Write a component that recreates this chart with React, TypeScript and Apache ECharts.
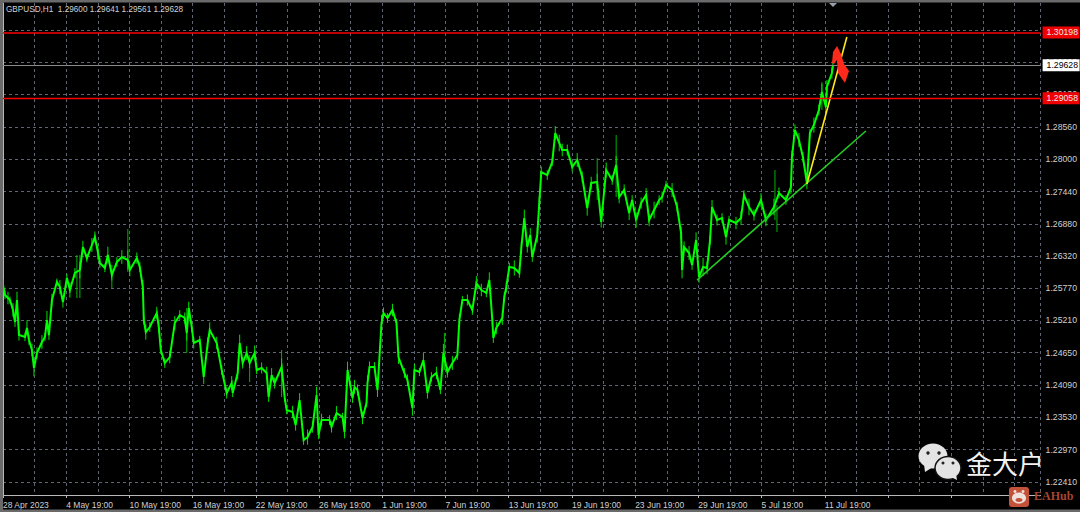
import React, { useEffect, useRef } from "react";
import * as echarts from "echarts";

const barIndex = [
  0, 2, 5, 7, 10, 12, 14, 16, 22, 24, 26, 29, 31, 34, 39, 42, 44, 46, 49, 54, 57, 60, 64, 67, 72, 77, 80, 84, 89, 92, 95, 97, 102, 105, 109, 114, 119, 125, 127, 134, 137, 140, 141, 143, 147, 154, 156, 158, 162, 167, 172, 177, 182, 184, 186, 189, 191, 197, 201, 205, 207, 214, 219, 224, 229, 230, 235, 237, 240, 244, 247, 252, 254, 259, 264, 266, 269, 272, 279, 282, 284, 290, 293, 297, 301, 305, 310, 314, 316, 319, 327, 329, 334, 340, 342, 345, 350, 352, 355, 360, 364, 365, 367, 372, 375, 379, 381, 385, 390, 394, 396, 402, 405, 410, 412, 417, 421, 425, 429, 434, 438, 441, 445, 450, 455, 457, 460, 465, 470, 474, 479, 484, 487, 490, 491, 494, 500, 502, 504, 507, 512, 517, 519, 522, 525, 528, 530, 535, 537, 539, 545, 550, 553, 557, 560, 565, 570, 575, 580, 585, 589, 595, 599, 604, 610, 614, 617, 622, 627, 630, 634, 639, 644, 647, 652, 657, 660, 664, 670, 675, 679, 680, 682, 687, 690, 694, 697, 701, 705, 708, 710, 715, 720, 724, 727, 734, 739, 742, 747, 752, 759, 764, 772, 777, 784, 789, 790, 793, 797, 801, 805, 808, 812, 817, 820, 824, 825, 830, 831,
];
const closePrices = [
  1.25823, 1.2565, 1.25597, 1.25563, 1.2539, 1.25182, 1.25563, 1.24956, 1.24922, 1.25078, 1.2487, 1.24697, 1.24385, 1.24645, 1.24835, 1.24922, 1.25216, 1.24956, 1.25563, 1.25875, 1.25788, 1.25528, 1.25944, 1.25736, 1.26031, 1.26083, 1.26481, 1.2629, 1.26516, 1.26654, 1.26394, 1.26204, 1.26117, 1.26342, 1.25996, 1.26221, 1.26308, 1.26256, 1.26083, 1.2629, 1.26135, 1.25788, 1.25216, 1.25008, 1.25095, 1.25338, 1.25095, 1.24697, 1.24471, 1.24575, 1.25164, 1.25303, 1.25251, 1.24991, 1.25424, 1.25095, 1.24818, 1.2487, 1.24229, 1.24818, 1.25043, 1.24818, 1.2435, 1.23952, 1.24125, 1.23952, 1.24298, 1.24818, 1.24471, 1.24645, 1.24471, 1.24645, 1.2435, 1.24385, 1.24298, 1.23882, 1.24263, 1.24125, 1.24402, 1.23882, 1.23657, 1.23622, 1.23397, 1.2383, 1.23137, 1.23189, 1.23363, 1.23917, 1.23224, 1.23484, 1.23484, 1.23363, 1.23605, 1.23536, 1.23276, 1.2435, 1.23865, 1.24056, 1.24004, 1.23519, 1.23778, 1.24125, 1.24402, 1.24402, 1.24004, 1.25164, 1.25338, 1.25251, 1.2539, 1.25164, 1.24575, 1.24298, 1.24177, 1.23692, 1.2435, 1.24315, 1.24523, 1.23952, 1.24229, 1.24298, 1.24004, 1.24645, 1.24315, 1.24471, 1.2461, 1.25216, 1.25563, 1.25563, 1.2539, 1.25857, 1.25736, 1.25684, 1.25909, 1.25216, 1.24904, 1.25078, 1.25251, 1.25615, 1.25788, 1.26135, 1.26117, 1.26031, 1.26464, 1.26983, 1.26481, 1.26689, 1.26308, 1.26689, 1.27243, 1.2778, 1.27728, 1.27954, 1.28456, 1.28283, 1.28161, 1.28161, 1.27867, 1.27988, 1.27694, 1.27157, 1.2759, 1.27607, 1.26914, 1.27815, 1.27642, 1.27902, 1.27347, 1.27468, 1.2707, 1.27295, 1.26949, 1.27243, 1.27382, 1.26949, 1.27122, 1.27295, 1.27347, 1.27555, 1.27468, 1.27174, 1.26723, 1.26083, 1.26481, 1.26377, 1.26169, 1.26602, 1.25961, 1.26135, 1.26117, 1.26602, 1.27174, 1.26949, 1.26983, 1.26654, 1.26949, 1.26897, 1.26983, 1.27382, 1.27174, 1.27035, 1.27295, 1.26949, 1.27174, 1.27416, 1.27295, 1.2752, 1.2804, 1.28508, 1.28335, 1.2804, 1.2759, 1.28456, 1.28594, 1.28854, 1.29166, 1.28906, 1.29253, 1.29495, 1.29628,
];
// Approximate half-height of the price band round each sample, in units of 0.00012 (read by eye).
const bandHeights = [
  8, 6, 9, 5, 10, 7, 12, 8, 6, 11, 7, 9, 12, 8, 10, 6, 13, 7, 9, 5, 10, 8, 6, 11, 7, 12, 9, 6, 10, 8, 11, 7, 6, 12, 8, 7, 10, 14, 9, 8, 7, 10, 6, 11, 7, 9, 8, 6, 7, 9, 10, 7, 8, 11, 9, 7, 8, 6, 10, 8, 11, 9, 7, 8, 10, 6, 9, 12, 8, 10, 7, 11, 6, 8, 9, 7, 10, 8, 12, 7, 6, 9, 8, 10, 7, 11, 8, 12, 6, 9, 7, 8, 10, 6, 9, 12, 7, 10, 8, 9, 6, 11, 8, 7, 10, 12, 8, 7, 9, 6, 10, 7, 8, 11, 9, 6, 10, 8, 7, 9, 6, 13, 8, 10, 7, 9, 6, 8, 7, 10, 9, 6, 11, 8, 7, 9, 10, 7, 8, 6, 11, 7, 9, 12, 8, 10, 7, 11, 9, 8, 7, 6, 10, 12, 9, 8, 7, 10, 8, 11, 9, 12, 8, 11, 7, 13, 9, 8, 10, 7, 11, 8, 10, 9, 12, 7, 8, 6, 10, 7, 9, 12, 8, 10, 7, 11, 8, 13, 9, 7, 10, 8, 7, 11, 6, 9, 10, 7, 12, 8, 10, 9, 12, 8, 7, 10, 9, 8, 10, 7, 9, 6, 11, 8, 12, 9, 10, 8, 6,
];
const spikeBars = [74, 77, 109, 125, 184, 247, 279, 442, 595, 614, 773, 775, 820];
const spikeHighs = [1.26342, 1.26342, 1.26169, 1.26793, 1.25424, 1.2461, 1.24697, 1.24991, 1.28023, 1.28421, 1.27815, 1.27209, 1.29339];
const spikeLows = [1.25597, 1.25597, 1.25771, 1.26048, 1.24645, 1.24142, 1.23882, 1.2435, 1.27295, 1.27347, 1.26949, 1.26741, 1.28854];

const priceTicks = [1.2241, 1.2297, 1.2353, 1.2409, 1.2465, 1.2521, 1.2577, 1.2632, 1.2688, 1.2744, 1.28, 1.2856, 1.2913, 1.2969, 1.3024];
const timeLabels = ["28 Apr 2023", "4 May 19:00", "10 May 19:00", "16 May 19:00", "22 May 19:00", "26 May 19:00", "1 Jun 19:00", "7 Jun 19:00", "13 Jun 19:00", "19 Jun 19:00", "23 Jun 19:00", "29 Jun 19:00", "5 Jul 19:00", "11 Jul 19:00"];

const upperLevel = 1.30198;
const lowerLevel = 1.29058;
const lastPrice = 1.29628;
const supportBars = [695, 864];
const supportPrices = [1.25909, 1.28491];
const breakoutBars = [805, 845];
const breakoutPrices = [1.27573, 1.30119];
const headerText = "GBPUSD,H1  1.29600 1.29641 1.29561 1.29628";
const labelFont = '"Liberation Sans", Arial, sans-serif';
const gridDash = { color: "#5f6572", width: 1, type: [3, 3] as number[] };

const levelLine = (value: number, color: string, width: number, textColor: string, tag: string) => ({
  yAxis: value,
  lineStyle: { color, width, type: "solid" as const },
  label: {
    show: true,
    position: "end" as const,
    distance: 2,
    formatter: value.toFixed(5),
    backgroundColor: tag,
    color: textColor,
    fontFamily: labelFont,
    fontSize: 8.7,
    padding: [2, 2, 1, 4],
    width: 31,
  },
});

const wickSeries = (bars: number[], lows: number[], highs: number[], stroke: string, z: number) => ({
  type: "custom",
  silent: true,
  z,
  data: bars.map((b, i) => [b, lows[i], highs[i]]),
  renderItem: (_p: unknown, api: any) => {
    const a = api.coord([api.value(0), api.value(1)]);
    const b = api.coord([api.value(0), api.value(2)]);
    return {
      type: "line",
      shape: { x1: a[0], y1: a[1], x2: b[0], y2: b[1] },
      style: { stroke, lineWidth: 1 },
    };
  },
});

export default function App() {
  const ref = useRef<HTMLDivElement>(null);
  useEffect(() => {
    document.body.style.margin = "0";
    document.body.style.background = "#000";
    const chart = echarts.init(ref.current!, undefined, { renderer: "svg" });
    const bandLows = closePrices.map((p, i) => p - (bandHeights[i] ?? 8) * 0.00012);
    const bandHighs = closePrices.map((p, i) => p + (bandHeights[i] ?? 8) * 0.00012);
    chart.setOption({
      animation: false,
      backgroundColor: "#000",
      grid: { left: 3, right: 38, top: 3, bottom: 17, show: false },
      xAxis: {
        type: "value",
        min: 0,
        max: 1039,
        interval: 63.3,
        axisLine: { onZero: false, lineStyle: { color: "#b8b8b8", width: 1 } },
        axisTick: { show: true, length: 3, lineStyle: { color: "#b8b8b8" } },
        minorTick: { show: false, splitNumber: 2 },
        splitLine: { show: true, lineStyle: gridDash },
        minorSplitLine: { show: true, lineStyle: gridDash },
        axisLabel: {
          color: "#d0d0d0",
          fontFamily: labelFont,
          fontSize: 8.5,
          align: "left",
          margin: 5,
          showMaxLabel: false,
          hideOverlap: false,
          formatter: (_v: number, i: number) => timeLabels[i] ?? "",
        },
      },
      yAxis: {
        type: "value",
        position: "right",
        min: 1.22185,
        max: 1.30708,
        scale: true,
        axisLine: { show: true, lineStyle: { color: "#b8b8b8", width: 1 } },
        axisTick: { show: false, customValues: priceTicks },
        splitLine: { show: true, lineStyle: gridDash },
        axisLabel: {
          color: "#d0d0d0",
          fontFamily: labelFont,
          fontSize: 8.7,
          margin: 5,
          customValues: priceTicks,
          formatter: (v: number) => v.toFixed(5),
        },
      },
      graphic: [
        { type: "rect", z: 20, shape: { x: 0, y: 0, width: 3, height: 512 }, style: { fill: "#6a6a6a" } },
        { type: "rect", z: 20, shape: { x: 0, y: 0, width: 1080, height: 2.5 }, style: { fill: "#6a6a6a" } },
        { type: "rect", z: 20, shape: { x: 0, y: 509.5, width: 1080, height: 2.5 }, style: { fill: "#6a6a6a" } },
        { type: "polygon", z: 20, shape: { points: [[829, 3], [837, 3], [833, 7]] }, style: { fill: "#9aa0a8" } },
        { type: "text", z: 20, x: 6, y: 5, style: { text: headerText, fill: "#d0d0d0", font: `8.2px ${labelFont}` } },
        {
          type: "polygon", z: 20,
          shape: { points: [[832, 63], [833, 52], [837, 46], [841, 54], [844, 64], [849, 71], [845, 83], [838, 73], [837, 60], [834, 64]] },
          style: { fill: "#ff2a1a" },
        },
        { type: "ellipse", z: 20, shape: { cx: 933, cy: 456, rx: 14.5, ry: 12.5 }, style: { fill: "#e4e4e4" } },
        { type: "polygon", z: 20, shape: { points: [[924, 464], [925, 472], [933, 467]] }, style: { fill: "#e4e4e4" } },
        { type: "circle", z: 20, shape: { cx: 928, cy: 453, r: 1.7 }, style: { fill: "#222" } },
        { type: "circle", z: 20, shape: { cx: 939, cy: 453, r: 1.7 }, style: { fill: "#222" } },
        { type: "ellipse", z: 21, shape: { cx: 948, cy: 468, rx: 13, ry: 11.5 }, style: { fill: "#e4e4e4", stroke: "#111", lineWidth: 1.5 } },
        { type: "polygon", z: 21, shape: { points: [[951, 477], [957, 480], [956, 474]] }, style: { fill: "#e4e4e4" } },
        { type: "circle", z: 22, shape: { cx: 943, cy: 463, r: 1.5 }, style: { fill: "#222" } },
        { type: "circle", z: 22, shape: { cx: 953, cy: 463, r: 1.5 }, style: { fill: "#222" } },
        { type: "text", z: 20, x: 966, y: 449, style: { text: "金大户", fill: "#f2f2f2", font: '26px "Noto Sans CJK SC"' } },
        { type: "rect", z: 20, shape: { x: 1009, y: 487, width: 20, height: 20, r: 3 }, style: { fill: "#c4523a" } },
        { type: "ellipse", z: 21, shape: { cx: 1019, cy: 498, rx: 7, ry: 5.5 }, style: { fill: "#eee2dc" } },
        { type: "circle", z: 21, shape: { cx: 1015, cy: 491.5, r: 1.5 }, style: { fill: "#eee2dc" } },
        { type: "circle", z: 21, shape: { cx: 1023, cy: 491.5, r: 1.5 }, style: { fill: "#eee2dc" } },
        { type: "ellipse", z: 22, shape: { cx: 1019, cy: 500, rx: 3.5, ry: 2 }, style: { fill: "#c4523a" } },
        { type: "text", z: 20, x: 1034, y: 490, style: { text: "EAHub", fill: "#a8452f", font: 'bold 12px "Liberation Serif"' } },
      ],
      series: [
        wickSeries(spikeBars, spikeLows, spikeHighs, "#00b400", 3),
        wickSeries(barIndex, bandLows, bandHighs, "#00e000", 3),
        {
          type: "line",
          silent: true,
          symbol: "none",
          z: 4,
          lineStyle: { color: "#00ff00", width: 2, join: "miter" },
          data: barIndex.map((b, i) => [b, closePrices[i]]),
          markLine: {
            silent: true,
            symbol: "none",
            precision: 5,
            z: 6,
            data: [
              levelLine(lastPrice, "#8a8a8a", 1, "#000", "#fff"),
              levelLine(upperLevel, "#ff0000", 1.6, "#e8e8e8", "#f00000"),
              levelLine(lowerLevel, "#ff0000", 1.3, "#e8e8e8", "#f00000"),
            ],
          },
        },
        {
          type: "line",
          silent: true,
          symbol: "none",
          z: 5,
          lineStyle: { color: "#22cc22", width: 1.6 },
          data: supportBars.map((b, i) => [b, supportPrices[i]]),
        },
        {
          type: "line",
          silent: true,
          symbol: "none",
          z: 5,
          lineStyle: { color: "#ffe81a", width: 1.6 },
          data: breakoutBars.map((b, i) => [b, breakoutPrices[i]]),
        },
      ],
    });
    return () => chart.dispose();
  }, []);
  return <div ref={ref} style={{ position: "absolute", left: 0, top: 0, width: 1080, height: 512 }} />;
}
